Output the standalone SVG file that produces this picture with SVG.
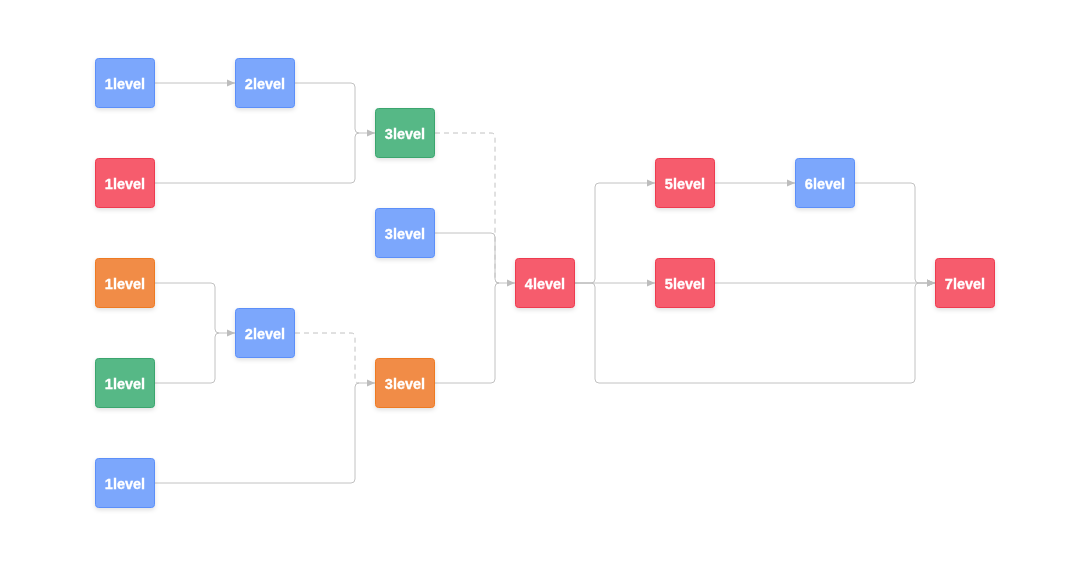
<svg xmlns="http://www.w3.org/2000/svg" width="1081" height="561" viewBox="0 0 1081 561">
<style>
.n rect{stroke-width:1}
.blue rect{fill:#7ba7fc;stroke:#5b8ff9}
.red rect{fill:#f65b6d;stroke:#ee3b4f}
.green rect{fill:#56b886;stroke:#3aa56e}
.orange rect{fill:#f18c46;stroke:#ee7a24}
.n text{font-family:"Liberation Sans",Arial,sans-serif;font-weight:bold;font-size:14.5px;fill:#fff;text-anchor:middle;stroke:#fff;stroke-width:0.3}
.e{fill:none;stroke:#c2c2c2;stroke-width:1}
.d{stroke-dasharray:5 4}
</style>
<defs>
<marker id="ah" viewBox="0 0 8 8" refX="8" refY="4" markerWidth="8" markerHeight="8" markerUnits="userSpaceOnUse" orient="auto">
<path d="M0,0.5 L8,4 L0,7.5 Z" fill="#bdbdbd"/>
</marker>
<filter id="sh" x="-20%" y="-20%" width="140%" height="150%">
<feDropShadow dx="0" dy="2" stdDeviation="2" flood-color="#000" flood-opacity="0.12"/>
</filter>
</defs>
<rect width="1081" height="561" fill="#fff"/>
<g id="connectors">
<path class="e" marker-end="url(#ah)" d="M155,83 H235"/>
<path class="e" marker-end="url(#ah)" d="M295,83 H351 Q355,83 355,87 V129 Q355,133 359,133 H375"/>
<path class="e" d="M155,183 H351 Q355,183 355,179 V137 Q355,133 359,133"/>
<path class="e d" d="M435,133 H491 Q495,133 495,137 V279 Q495,283 499,283"/>
<path class="e" marker-end="url(#ah)" d="M435,233 H491 Q495,233 495,237 V279 Q495,283 499,283 H515"/>
<path class="e" d="M435,383 H491 Q495,383 495,379 V287 Q495,283 499,283"/>
<path class="e" marker-end="url(#ah)" d="M155,283 H211 Q215,283 215,287 V329 Q215,333 219,333 H235"/>
<path class="e" d="M155,383 H211 Q215,383 215,379 V337 Q215,333 219,333"/>
<path class="e d" d="M295,333 H351 Q355,333 355,337 V379 Q355,383 359,383"/>
<path class="e" marker-end="url(#ah)" d="M155,483 H351 Q355,483 355,479 V387 Q355,383 359,383 H375"/>
<path class="e" marker-end="url(#ah)" d="M575,283 H591 Q595,283 595,279 V187 Q595,183 599,183 H655"/>
<path class="e" marker-end="url(#ah)" d="M575,283 H655"/>
<path class="e" marker-end="url(#ah)" d="M575,283 H591 Q595,283 595,287 V379 Q595,383 599,383 H911 Q915,383 915,379 V287 Q915,283 919,283 H935"/>
<path class="e" marker-end="url(#ah)" d="M715,183 H795"/>
<path class="e" marker-end="url(#ah)" d="M855,183 H911 Q915,183 915,187 V279 Q915,283 919,283 H935"/>
<path class="e" marker-end="url(#ah)" d="M715,283 H935"/>
</g>
<g id="A" class="n blue" filter="url(#sh)"><rect x="95.5" y="58.5" width="59" height="49" rx="3"/><text x="125" y="89">1level</text></g>
<g id="B" class="n blue" filter="url(#sh)"><rect x="235.5" y="58.5" width="59" height="49" rx="3"/><text x="265" y="89">2level</text></g>
<g id="C" class="n green" filter="url(#sh)"><rect x="375.5" y="108.5" width="59" height="49" rx="3"/><text x="405" y="139">3level</text></g>
<g id="D" class="n red" filter="url(#sh)"><rect x="95.5" y="158.5" width="59" height="49" rx="3"/><text x="125" y="189">1level</text></g>
<g id="E" class="n blue" filter="url(#sh)"><rect x="375.5" y="208.5" width="59" height="49" rx="3"/><text x="405" y="239">3level</text></g>
<g id="F" class="n orange" filter="url(#sh)"><rect x="95.5" y="258.5" width="59" height="49" rx="3"/><text x="125" y="289">1level</text></g>
<g id="G" class="n blue" filter="url(#sh)"><rect x="235.5" y="308.5" width="59" height="49" rx="3"/><text x="265" y="339">2level</text></g>
<g id="H" class="n green" filter="url(#sh)"><rect x="95.5" y="358.5" width="59" height="49" rx="3"/><text x="125" y="389">1level</text></g>
<g id="I" class="n orange" filter="url(#sh)"><rect x="375.5" y="358.5" width="59" height="49" rx="3"/><text x="405" y="389">3level</text></g>
<g id="J" class="n blue" filter="url(#sh)"><rect x="95.5" y="458.5" width="59" height="49" rx="3"/><text x="125" y="489">1level</text></g>
<g id="K" class="n red" filter="url(#sh)"><rect x="515.5" y="258.5" width="59" height="49" rx="3"/><text x="545" y="289">4level</text></g>
<g id="L" class="n red" filter="url(#sh)"><rect x="655.5" y="158.5" width="59" height="49" rx="3"/><text x="685" y="189">5level</text></g>
<g id="M" class="n blue" filter="url(#sh)"><rect x="795.5" y="158.5" width="59" height="49" rx="3"/><text x="825" y="189">6level</text></g>
<g id="N" class="n red" filter="url(#sh)"><rect x="655.5" y="258.5" width="59" height="49" rx="3"/><text x="685" y="289">5level</text></g>
<g id="O" class="n red" filter="url(#sh)"><rect x="935.5" y="258.5" width="59" height="49" rx="3"/><text x="965" y="289">7level</text></g>
</svg>
